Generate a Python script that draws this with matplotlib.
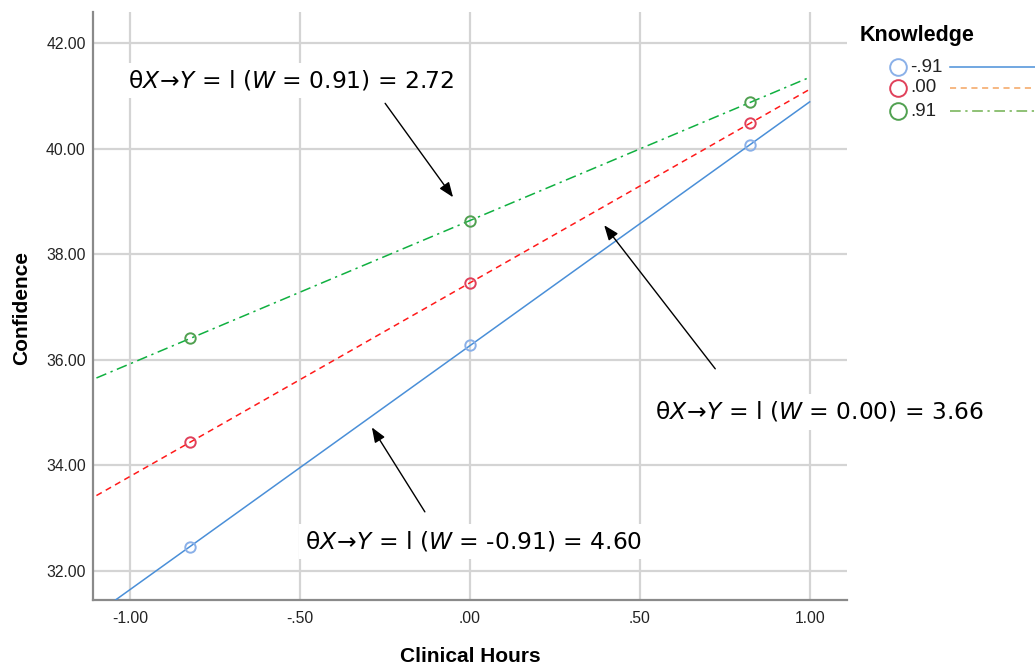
import matplotlib
matplotlib.use("Agg")
import matplotlib.pyplot as plt
from matplotlib.lines import Line2D
import numpy as np

plt.rcParams['font.family'] = ['Liberation Sans', 'DejaVu Sans']
plt.rcParams['mathtext.fontset'] = 'dejavusans'

# ---- data ----
x_points = [-0.824, 0.0, 0.824]
knowledge_labels = ['-.91', '.00', '.91']
conf_low = [32.46, 36.28, 40.07]    # Knowledge = -.91
conf_mid = [34.44, 37.46, 40.48]    # Knowledge = .00
conf_high = [36.41, 38.63, 40.88]   # Knowledge = .91
line_range = [-1.10, 1.00]

x_ticks = [-1.0, -0.5, 0.0, 0.5, 1.0]
x_ticklabels = ['-1.00', '-.50', '.00', '.50', '1.00']
y_ticks = [32, 34, 36, 38, 40, 42]
y_ticklabels = ['32.00', '34.00', '36.00', '38.00', '40.00', '42.00']

annot_texts = [
    r"θ$\mathit{X}\!\rightarrow\!\mathit{Y}$ = l ($\mathit{W}$ = 0.91) = 2.72",
    r"θ$\mathit{X}\!\rightarrow\!\mathit{Y}$ = l ($\mathit{W}$ = 0.00) = 3.66",
    r"θ$\mathit{X}\!\rightarrow\!\mathit{Y}$ = l ($\mathit{W}$ = -0.91) = 4.60",
]
annot_text_pos = [(-1.007, 41.164), (0.545, 34.88), (-0.486, 32.43)]
annot_arrow_tail = [(-0.25, 40.86), (0.722, 35.83), (-0.133, 33.12)]
annot_arrow_head = [(-0.05, 39.08), (0.395, 38.55), (-0.289, 34.72)]

# ---- figure ----
W, H = 1035, 667
fig = plt.figure(figsize=(W / 100, H / 100), dpi=100)
ax = fig.add_axes([92.7 / W, 1 - 600 / H, (846.7 - 92.7) / W, (600 - 12) / H])

ax.set_xlim(-1.111, 1.109)
ax.set_ylim(31.45, 42.59)

series = [
    (conf_low, '#4a8fd8', '-', '#8ab0e8'),
    (conf_mid, '#ff1a1a', (0, (4, 3)), '#e0405a'),
    (conf_high, '#10b040', (0, (7, 3, 1.5, 3)), '#50a050'),
]

for ys, lc, ls, mc in series:
    slope, icpt = np.polyfit(x_points, ys, 1)
    xl = np.array(line_range)
    ax.plot(xl, icpt + slope * xl, color=lc, linestyle=ls, lw=1.1, zorder=3)
    ax.plot(x_points, ys, linestyle='none', marker='o', markersize=7.5,
            markerfacecolor='none', markeredgecolor=mc, markeredgewidth=1.4, zorder=4)

ax.set_xticks(x_ticks)
ax.set_xticklabels(x_ticklabels)
ax.set_yticks(y_ticks)
ax.set_yticklabels(y_ticklabels)
ax.tick_params(length=0, labelsize=11.3, colors='#222222')
ax.tick_params(axis='x', pad=8)
ax.tick_params(axis='y', pad=5)
ax.grid(True, color='#d4d4d4', lw=1.6, zorder=0)
ax.set_axisbelow(True)
for s in ['top', 'right']:
    ax.spines[s].set_visible(False)
for s in ['left', 'bottom']:
    ax.spines[s].set_color('#8a8a8a')
    ax.spines[s].set_linewidth(1.6)

fig.text(470 / W, 1 - 656 / H, 'Clinical Hours', ha='center', va='center',
         fontsize=15, fontweight='bold')
fig.text(22 / W, 1 - 308 / H, 'Confidence', ha='center', va='center', rotation=90,
         fontsize=15, fontweight='bold')

# annotations
for txt, tp, tail, head in zip(annot_texts, annot_text_pos, annot_arrow_tail, annot_arrow_head):
    ax.text(tp[0], tp[1], txt, ha='left', va='baseline', fontsize=16.8, color='black',
            family=['DejaVu Sans'],
            bbox=dict(facecolor='white', edgecolor='none', pad=4), zorder=6)
    ax.annotate('', xy=head, xytext=tail,
                arrowprops=dict(arrowstyle='-|>,head_length=0.9,head_width=0.35',
                                color='black', lw=1.0, shrinkA=0, shrinkB=0), zorder=7)

# legend (manual, outside axes)
fig.text(860 / W, 1 - 35 / H, 'Knowledge', ha='left', va='center', fontsize=15.5,
         fontweight='bold')
leg_y = [67, 88, 111]
leg_marker_colors = ['#8ab0e8', '#e0405a', '#50a050']
leg_line_colors = ['#4a8fd8', '#f4a460', '#70b050']
leg_line_styles = ['-', (0, (4, 3)), (0, (7, 3, 1.5, 3))]
for yy, lab, mc, lc, ls in zip(leg_y, knowledge_labels, leg_marker_colors,
                                leg_line_colors, leg_line_styles):
    yf = 1 - yy / H
    fig.add_artist(Line2D([898 / W], [yf], marker='o', markersize=12,
                          markerfacecolor='none', markeredgecolor=mc,
                          markeredgewidth=1.4, linestyle='none'))
    fig.text(910 / W, yf, lab, ha='left', va='center', fontsize=13.5, color='#222222')
    fig.add_artist(Line2D([950 / W, 1.0], [yf, yf], color=lc, linestyle=ls, lw=1.1))

fig.savefig('out.png', dpi=100, facecolor='white')
